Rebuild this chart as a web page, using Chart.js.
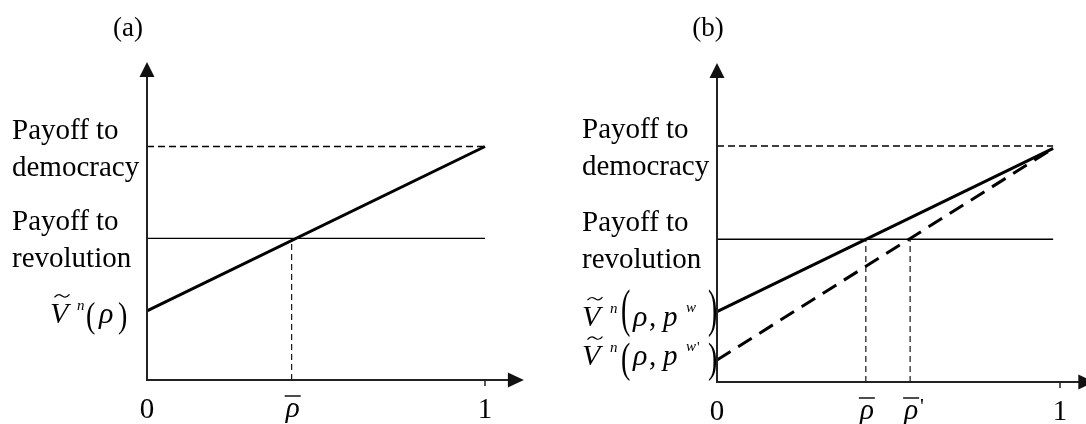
<!DOCTYPE html>
<html>
<head>
<meta charset="utf-8">
<script src="https://cdn.jsdelivr.net/npm/chart.js@4"></script>
<style>
  html, body { margin: 0; padding: 0; background: #fff; width: 1086px; height: 424px; overflow: hidden; }
  canvas { position: absolute; top: 0; }
  #panelA { left: 0; }
  #panelB { left: 570px; }
</style>
</head>
<body>
<canvas id="panelA" width="543" height="424"></canvas>
<canvas id="panelB" width="530" height="424"></canvas>
<script>
// ====== Data ======
const xEnds = [0, 1];

// panel (a)
const aDemocracy = [1, 1];
const aRevolution = [0.607, 0.607];
const aPayoff = [0.296, 1];
const aRhoBar = [0.428];

// panel (b)
const bXEnds = [0, 0.98];
const bDemocracy = [1, 1];
const bRevolution = [0.605, 0.605];
const bPayoff = [0.298, 0.99];
const bPayoffLow = [0.093, 0.99];
const bRhoBar = [0.434, 0.563];

const xTickLabels = ['0', 'ρ', '1'];
const yLabels = [['Payoff to', 'democracy'], ['Payoff to', 'revolution']];
const panelTitles = ['(a)', '(b)'];

const SERIF = '"Liberation Serif", "Times New Roman", serif';

function pts(xs, ys) { return xs.map((x, i) => ({ x, y: ys[i] })); }

function lineDs(data, width, dash) {
    return { data, borderColor: '#000', borderWidth: width, borderDash: dash || [],
             pointRadius: 0, showLine: true, fill: false, tension: 0, clip: false };
}

function font(size, italic) { return (italic ? 'italic ' : '') + size + 'px ' + SERIF; }

// draws a little formula piece by piece (tilde, superscripts, tall thin parens)
function drawPieces(ctx, x, base, pieces) {
    ctx.textAlign = 'left';
    ctx.textBaseline = 'alphabetic';
    pieces.forEach(p => {
        if (p.tilde) {
            const cx = x + p.dx, cy = base + p.dy, w = p.w;
            ctx.beginPath();
            ctx.lineWidth = 1.3;
            ctx.moveTo(cx - w / 2, cy + 1.5);
            ctx.bezierCurveTo(cx - w / 4, cy - 3, cx - w / 8, cy - 1, cx, cy);
            ctx.bezierCurveTo(cx + w / 8, cy + 1, cx + w / 4, cy + 3, cx + w / 2, cy - 1.5);
            ctx.stroke();
            return;
        }
        ctx.font = font(p.s, p.it);
        ctx.save();
        ctx.translate(x + p.dx, base + (p.dy || 0));
        if (p.sy) ctx.scale(1, p.sy);
        ctx.fillText(p.t, 0, 0);
        ctx.restore();
    });
}

function arrowUp(ctx, x, y) {
    ctx.beginPath();
    ctx.moveTo(x, y); ctx.lineTo(x - 7.5, y + 15); ctx.lineTo(x + 7.5, y + 15); ctx.closePath(); ctx.fill();
}
function arrowRight(ctx, x, y) {
    ctx.beginPath();
    ctx.moveTo(x, y); ctx.lineTo(x - 16, y - 7.5); ctx.lineTo(x - 16, y + 7.5); ctx.closePath(); ctx.fill();
}

function rhoLabel(ctx, cx, y0, prime) {
    ctx.font = font(29, true);
    ctx.textAlign = 'center';
    ctx.fillText(xTickLabels[1], cx + 1, y0 + 37);
    ctx.lineWidth = 1.4;
    ctx.beginPath();
    ctx.moveTo(cx - 7, y0 + 16); ctx.lineTo(cx + 9, y0 + 16);
    ctx.stroke();
    if (prime) {
        ctx.font = font(22, false);
        ctx.textAlign = 'left';
        ctx.fillText("'", cx + 10, y0 + 31);
    }
}

function decor(opts) {
    return {
        id: 'decor',
        afterDraw(chart) {
            const ctx = chart.ctx, xs = chart.scales.x, ys = chart.scales.y, ca = chart.chartArea;
            const x0 = xs.getPixelForValue(0), y0 = ys.getPixelForValue(0);
            ctx.save();

            // axes with arrows
            ctx.strokeStyle = '#222';
            ctx.fillStyle = '#111';
            ctx.lineWidth = 2;
            ctx.beginPath();
            ctx.moveTo(x0, ca.top + 10); ctx.lineTo(x0, y0); ctx.lineTo(ca.right - 10, y0);
            ctx.stroke();
            arrowUp(ctx, x0, ca.top);
            arrowRight(ctx, ca.right, y0);

            // tick at 1
            const x1 = xs.getPixelForValue(1);
            ctx.lineWidth = 1.5;
            ctx.beginPath(); ctx.moveTo(x1, y0); ctx.lineTo(x1, y0 + 6); ctx.stroke();

            ctx.fillStyle = '#000';
            ctx.strokeStyle = '#000';

            // title
            ctx.font = font(27, false);
            ctx.textAlign = 'center';
            ctx.fillText(opts.title, opts.titleX, 36);

            // x tick labels
            ctx.font = font(29, false);
            ctx.fillText(xTickLabels[0], x0, y0 + 38);
            ctx.fillText(xTickLabels[2], x1, y0 + 38);
            opts.rhos.forEach((r, i) => rhoLabel(ctx, xs.getPixelForValue(r), y0, i > 0));

            // y labels
            ctx.font = font(29, false);
            ctx.textAlign = 'left';
            const yd = ys.getPixelForValue(opts.demo), yr = ys.getPixelForValue(opts.rev);
            ctx.fillText(yLabels[0][0], opts.labelX, yd - 8);
            ctx.fillText(yLabels[0][1], opts.labelX, yd + 29);
            ctx.fillText(yLabels[1][0], opts.labelX, yr - 8);
            ctx.fillText(yLabels[1][1], opts.labelX, yr + 29);

            opts.math.forEach(m => drawPieces(ctx, m.x, ys.getPixelForValue(m.v) + m.off, m.pieces));
            ctx.restore();
        }
    };
}

function makeChart(id, datasets, xMax, yMax, pad, opts) {
    const canvas = document.getElementById(id);
    return new Chart(canvas.getContext('2d'), {
        type: 'scatter',
        data: { datasets },
        options: {
            responsive: false,
            devicePixelRatio: 1,
            animation: false,
            layout: { padding: pad },
            plugins: { legend: { display: false }, tooltip: { enabled: false } },
            scales: {
                x: { type: 'linear', min: 0, max: xMax, display: false },
                y: { type: 'linear', min: 0, max: yMax, display: false }
            }
        },
        plugins: [decor(opts)]
    });
}

// ====== Panel (a) ======
const vA = [
    { dx: 0, t: 'V', s: 30, it: true },
    { tilde: true, dx: 12, dy: -27, w: 15 },
    { dx: 27, dy: -13, t: 'n', s: 15, it: true },
    { dx: 36, dy: 4, t: '(', s: 28, sy: 1.3 },
    { dx: 49, t: 'ρ', s: 30, it: true },
    { dx: 68, dy: 4, t: ')', s: 28, sy: 1.3 }
];
makeChart('panelA', [
    lineDs(pts(xEnds, aPayoff), 3),
    lineDs(pts(xEnds, aDemocracy), 1.6, [7, 4]),
    lineDs(pts(xEnds, aRevolution), 1.3),
    lineDs(pts([aRhoBar[0], aRhoBar[0]], [0, aRevolution[0]]), 1.1, [6, 4])
], 1.115, 1.362, { left: 147, right: 543 - 147 - 1.115 * 338, top: 62, bottom: 44 }, {
    title: panelTitles[0], titleX: 128, labelX: 12, demo: aDemocracy[0], rev: aRevolution[0],
    rhos: aRhoBar,
    math: [{ x: 50, v: aPayoff[0], off: 12, pieces: vA }]
});

// ====== Panel (b) ======
function vB(sy, parenDy, primed) {
    const p = [
        { dx: 0, t: 'V', s: 30, it: true },
        { tilde: true, dx: 13, dy: -27, w: 15 },
        { dx: 28, dy: -13, t: 'n', s: 15, it: true },
        { dx: 39, dy: parenDy, t: '(', s: 28, sy },
        { dx: 51, t: 'ρ', s: 30, it: true },
        { dx: 67, t: ',', s: 29 },
        { dx: 81, t: 'p', s: 29, it: true },
        { dx: 104, dy: -14, t: 'w', s: 15, it: true },
        { dx: 126, dy: parenDy, t: ')', s: 28, sy }
    ];
    if (primed) p.push({ dx: 115, dy: -13, t: "'", s: 15 });
    return p;
}
makeChart('panelB', [
    lineDs(pts(bXEnds, bPayoff), 3),
    lineDs(pts(bXEnds, bPayoffLow), 3, [16, 9]),
    lineDs(pts(bXEnds, bDemocracy), 1.6, [7, 4]),
    lineDs(pts(bXEnds, bRevolution), 1.3),
    lineDs(pts([bRhoBar[0], bRhoBar[0]], [0, bRevolution[0]]), 1.1, [6, 4]),
    lineDs(pts([bRhoBar[1], bRhoBar[1]], [0, bRevolution[0]]), 1.1, [6, 4])
], 1.1, 1.352, { left: 147, right: 530 - 147 - 1.1 * 343, top: 63, bottom: 42 }, {
    title: panelTitles[1], titleX: 708 - 570, labelX: 12, demo: bDemocracy[0], rev: bRevolution[0],
    rhos: bRhoBar,
    math: [
        { x: 12, v: bPayoff[0], off: 14, pieces: vB(1.85, 0, false) },
        { x: 12, v: bPayoffLow[0], off: 5, pieces: vB(1.5, 7, true) }
    ]
});
</script>
</body>
</html>
